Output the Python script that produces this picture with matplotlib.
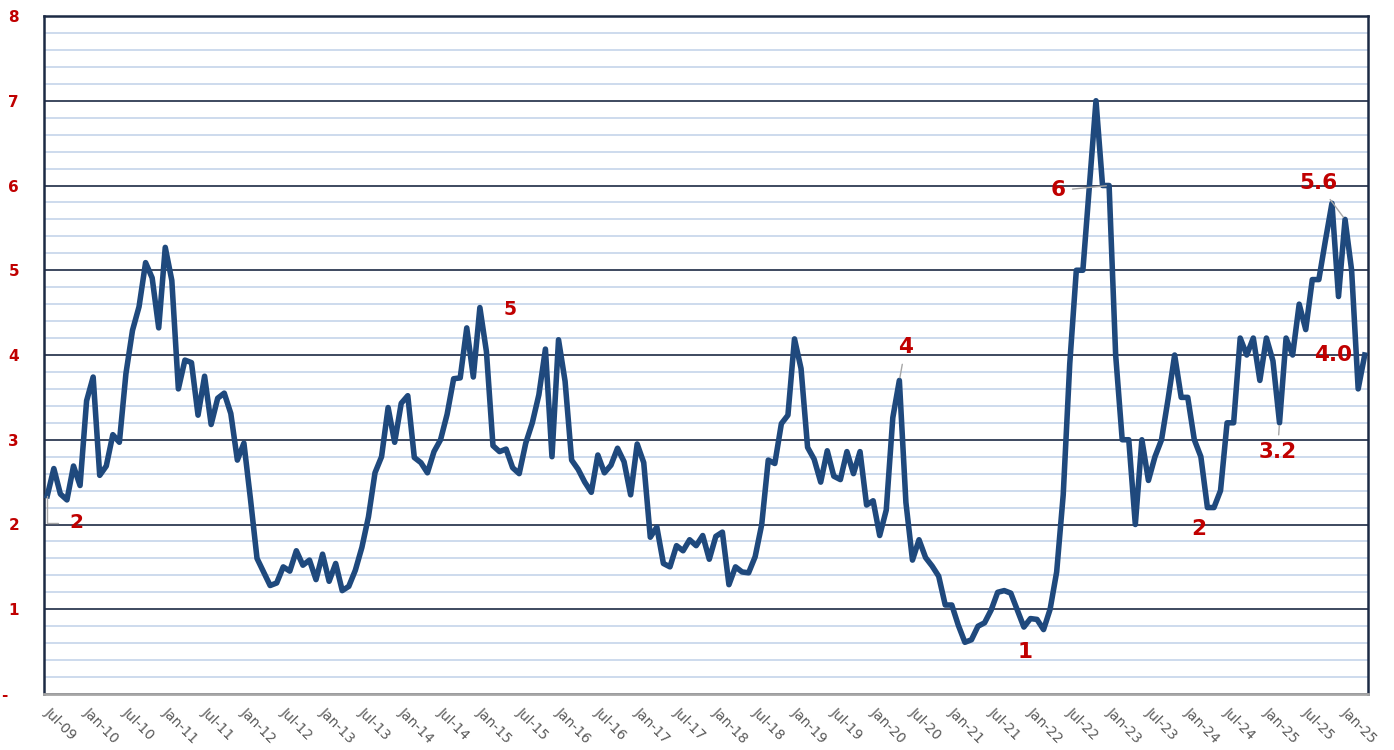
import numpy as np
import matplotlib
matplotlib.use("Agg")
import matplotlib.pyplot as plt
import matplotlib.transforms as mtransforms
from matplotlib.ticker import MultipleLocator

# monthly series (Jul-09 onward)
values = [
    2.34, 2.66, 2.36, 2.29, 2.69, 2.46, 3.46, 3.74, 2.58, 2.69,
    3.06, 2.97, 3.78, 4.29, 4.57, 5.09, 4.91, 4.32, 5.27, 4.88,
    3.60, 3.94, 3.91, 3.29, 3.75, 3.18, 3.49, 3.55, 3.31, 2.76,
    2.96, 2.30, 1.60, 1.44, 1.28, 1.31, 1.50, 1.45, 1.69, 1.52,
    1.58, 1.35, 1.65, 1.33, 1.54, 1.22, 1.27, 1.46, 1.73, 2.09,
    2.61, 2.80, 3.38, 2.97, 3.43, 3.52, 2.79, 2.73, 2.61, 2.86,
    3.00, 3.30, 3.72, 3.73, 4.32, 3.74, 4.56, 4.04, 2.93, 2.86,
    2.89, 2.67, 2.60, 2.96, 3.20, 3.53, 4.07, 2.80, 4.18, 3.69,
    2.76, 2.65, 2.50, 2.38, 2.82, 2.61, 2.70, 2.90, 2.74, 2.35,
    2.95, 2.73, 1.85, 1.97, 1.54, 1.50, 1.75, 1.69, 1.82, 1.75,
    1.87, 1.59, 1.86, 1.91, 1.29, 1.50, 1.44, 1.43, 1.62, 2.00,
    2.76, 2.72, 3.19, 3.29, 4.19, 3.84, 2.91, 2.77, 2.50, 2.87,
    2.57, 2.53, 2.86, 2.60, 2.86, 2.23, 2.28, 1.87, 2.17, 3.26,
    3.70, 2.26, 1.58, 1.82, 1.61, 1.51, 1.39, 1.05, 1.05, 0.81,
    0.61, 0.64, 0.80, 0.84, 0.99, 1.20, 1.22, 1.19, 0.99, 0.79,
    0.89, 0.88, 0.76, 1.00, 1.44, 2.35, 3.90, 5.00, 5.00, 6.00,
    7.00, 6.00, 6.00, 4.00, 3.00, 3.00, 2.00, 3.00, 2.52, 2.80,
    3.00, 3.48, 4.00, 3.50, 3.50, 3.00, 2.80, 2.20, 2.20, 2.40,
    3.20, 3.20, 4.20, 4.00, 4.20, 3.70, 4.20, 3.93, 3.20, 4.20,
    4.00, 4.60, 4.30, 4.89, 4.89, 5.35, 5.79, 4.69, 5.60, 5.00,
    3.60, 4.00,
]

x_labels = [
    "Jul-09", "Jan-10", "Jul-10", "Jan-11", "Jul-11", "Jan-12", "Jul-12",
    "Jan-13", "Jul-13", "Jan-14", "Jul-14", "Jan-15", "Jul-15", "Jan-16",
    "Jul-16", "Jan-17", "Jul-17", "Jan-18", "Jul-18", "Jan-19", "Jul-19",
    "Jan-20", "Jul-20", "Jan-21", "Jul-21", "Jan-22", "Jul-22", "Jan-23",
    "Jul-23", "Jan-24", "Jul-24", "Jan-25", "Jul-25", "Jan-25",
]
label_step = 6

y_labels = ["-  ", "1", "2", "3", "4", "5", "6", "7", "8"]

# (point index, label text)
point_labels = [
    (0, "2"), (66, "5"), (130, "4"), (149, "1"), (162, "6"),
    (177, "2"), (188, "3.2"), (198, "5.6"), (201, "4.0"),
]

# layout: text offset in pixels from the point, leader style
label_layout = {
    0: dict(off=(29, -27), size=14.5, leader="elbow"),
    66: dict(off=(30, -2), size=13.5, leader=None),
    130: dict(off=(6, 33), size=15.5, leader="line"),
    149: dict(off=(1, -25), size=15.5, leader=None),
    162: dict(off=(-51, -5), size=15.5, leader="line"),
    177: dict(off=(-9, -21), size=15.5, leader=None),
    188: dict(off=(-2, -29), size=15.5, leader="line"),
    198: dict(off=(-27, 36), size=15.5, leader="line"),
    201: dict(off=(-32, 0), size=15.5, leader=None),
}

LINE = "#1F497D"
RED = "#C00000"
NAVY = "#1C2A44"
MINOR = "#C9D8EC"
GREY = "#A6A6A6"

W, H = 1394, 750
fig = plt.figure(figsize=(W / 100, H / 100), dpi=100)
ax = fig.add_axes([44 / W, 1 - 694 / H, (1368 - 44) / W, (694 - 16) / H])

x = np.arange(len(values))
ax.plot(x, values, color=LINE, lw=4.0, solid_joinstyle="round", zorder=3)

ax.set_xlim(-0.5, len(values) - 0.5)
ax.set_ylim(0, 8)

ax.yaxis.set_major_locator(MultipleLocator(1))
ax.yaxis.set_minor_locator(MultipleLocator(0.2))
ax.grid(True, which="minor", axis="y", color=MINOR, lw=1.3)
ax.grid(True, which="major", axis="y", color=NAVY, lw=1.2)
ax.set_axisbelow(True)

ax.set_yticks(np.arange(0, 9))
ax.set_yticklabels(y_labels, color=RED, fontweight="bold", fontsize=11)
ax.tick_params(axis="y", which="both", length=0, pad=18)

ax.set_xticks(np.arange(len(x_labels)) * label_step)
ax.set_xticklabels(x_labels, rotation=-45, ha="left", va="top",
                   rotation_mode="anchor", color="#595959", fontsize=10)
ax.tick_params(axis="x", length=0, pad=8)
shift = mtransforms.ScaledTranslation(4 / 100, 0, fig.dpi_scale_trans)
for lbl in ax.get_xticklabels():
    lbl.set_transform(lbl.get_transform() + shift)

for side in ("left", "top", "right"):
    ax.spines[side].set_color(NAVY)
    ax.spines[side].set_linewidth(1.8)
ax.spines["bottom"].set_color(GREY)
ax.spines["bottom"].set_linewidth(2)

for idx, text in point_labels:
    lay = label_layout[idx]
    arrow = None
    if lay["leader"] == "elbow":
        arrow = dict(arrowstyle="-", color=GREY, lw=1, shrinkA=6, shrinkB=0,
                     connectionstyle="angle,angleA=0,angleB=90,rad=0")
    elif lay["leader"] == "line":
        arrow = dict(arrowstyle="-", color=GREY, lw=1, shrinkA=3, shrinkB=2)
    ax.annotate(text, xy=(idx, values[idx]), xytext=lay["off"],
                textcoords="offset pixels", ha="center", va="center",
                color=RED, fontweight="bold", fontsize=lay["size"],
                arrowprops=arrow, zorder=4)

fig.savefig("out.png", dpi=100)
